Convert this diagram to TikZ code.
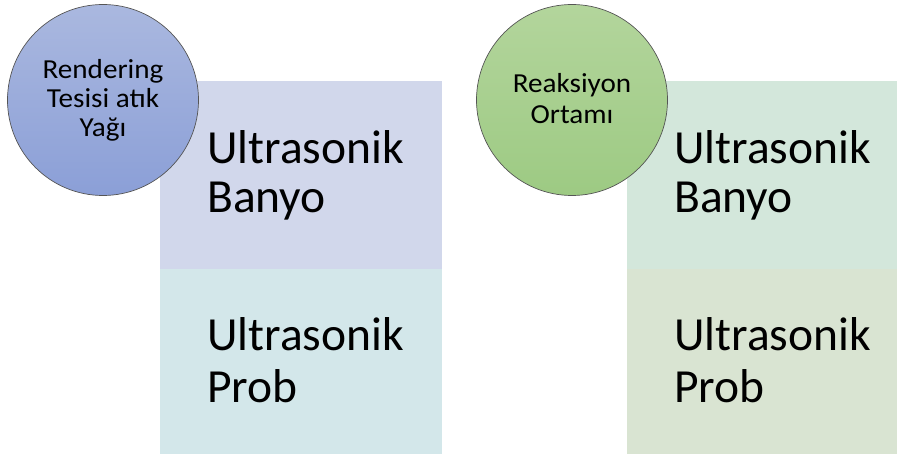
\documentclass[tikz,border=0pt]{standalone}
\usepackage{fontspec}
\setmainfont{Carlito}
\newfontfamily\circfont{Carlito}[FakeStretch=1.06]
\definecolor{blueTop}{HTML}{AAB8DF}
\definecolor{blueBot}{HTML}{8B9FD7}
\definecolor{greenTop}{HTML}{B3D59C}
\definecolor{greenBot}{HTML}{9DCA83}
\definecolor{panelA}{HTML}{D1D7EB}
\definecolor{panelB}{HTML}{D3E7EA}
\definecolor{panelC}{HTML}{D3E7DB}
\definecolor{panelD}{HTML}{D9E4D2}
\definecolor{rimGray}{HTML}{555555}
\begin{document}
\begin{tikzpicture}[x=1pt,y=-1pt,
  panel/.style={draw=none, inner sep=0pt, anchor=north west},
  bubble/.style={circle, minimum size=191pt, inner sep=0pt, draw=rimGray, line width=0.7pt},
  bigtext/.style={anchor=base west, inner sep=0pt, font=\fontsize{47.5}{50}\selectfont},
  smalltext/.style={anchor=base, inner sep=0pt, font=\circfont\fontsize{27.5}{29}\selectfont}]
\useasboundingbox (0,0) rectangle (897,454);

% left group: panels
\node[panel, fill=panelA, minimum width=282pt, minimum height=188pt] (pa) at (160,81) {};
\node[panel, fill=panelB, minimum width=282pt, minimum height=185pt] (pb) at (160,269) {};
% right group: panels
\node[panel, fill=panelC, minimum width=270pt, minimum height=188pt] (pc) at (627,81) {};
\node[panel, fill=panelD, minimum width=270pt, minimum height=185pt] (pd) at (627,269) {};

% panel labels
\node[bigtext] (ta1) at (207,164) {Ultrasonik};
\node[bigtext] (ta2) at (207,213) {Banyo};
\node[bigtext] (tb1) at (207,350) {Ultrasonik};
\node[bigtext] (tb2) at (207,402) {Prob};
\node[bigtext] (tc1) at (674,164) {Ultrasonik};
\node[bigtext] (tc2) at (674,213) {Banyo};
\node[bigtext] (td1) at (674,350) {Ultrasonik};
\node[bigtext] (td2) at (674,402) {Prob};

% circles
\node[bubble, top color=blueTop, bottom color=blueBot] (cl) at (103,100) {};
\node[bubble, top color=greenTop, bottom color=greenBot] (cr) at (572,100) {};

% circle labels
\node[smalltext] (cl1) at (103,79) {Rendering};
\node[smalltext] (cl2) at (103,108) {Tesisi atık};
\node[smalltext] (cl3) at (103,137) {Yağı};
\node[smalltext] (cr1) at (572,93) {Reaksiyon};
\node[smalltext] (cr2) at (572,124) {Ortamı};
\end{tikzpicture}
\end{document}
